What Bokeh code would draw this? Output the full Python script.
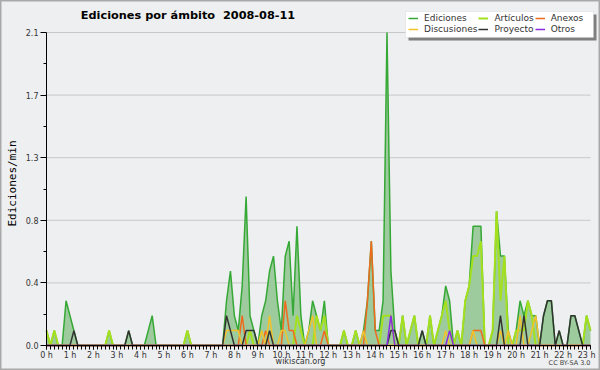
import numpy as np
from bokeh.plotting import figure
from bokeh.models import (Range1d, FixedTicker, PrintfTickFormatter, Legend, LegendItem,
                          Label, BoxAnnotation)
from bokeh.embed import file_html
from bokeh.resources import INLINE

# ---------------- data (edits per minute, 10-minute bins from 00:00) ----------------
title_text = "Ediciones por ámbito\u00a0\u00a02008-08-11"
y_label = "Ediciones/min"
hours = list(range(24))
y_max = 2.1

ediciones = [
    0.1, 0, 0.1, 0, 0, 0.3, 0.2, 0.1, 0, 0, 0, 0,
    0, 0, 0, 0, 0.1, 0, 0, 0, 0, 0.1, 0, 0,
    0, 0, 0.1, 0.2, 0, 0, 0, 0, 0, 0, 0, 0,
    0.1, 0, 0, 0, 0, 0, 0, 0, 0, 0, 0.3, 0.5,
    0.2, 0.1, 0.4, 1.0, 0.2, 0.1, 0, 0.2, 0.3, 0.5, 0.6, 0.3,
    0.1, 0.6, 0.7, 0.2, 0.8, 0.2, 0, 0.1, 0.3, 0.2, 0.1, 0.3,
    0, 0, 0, 0, 0.1, 0, 0, 0.1, 0, 0.1, 0.3, 0.7,
    0.1, 0.1, 0.3, 2.1, 0.5, 0.1, 0, 0.2, 0, 0.1, 0.2, 0,
    0.1, 0, 0.2, 0, 0.1, 0.2, 0.4, 0.3, 0, 0.1, 0, 0.3,
    0.4, 0.8, 0.8, 0.8, 0, 0, 0.1, 0.9, 0.6, 0.6, 0.1, 0,
    0.1, 0.3, 0.2, 0.3, 0.2, 0.2, 0, 0.2, 0.3, 0.3, 0, 0.1,
    0, 0, 0.2, 0.2, 0.1, 0, 0.2, 0.1,
]
articulos = [
    0.1, 0, 0.1, 0, 0, 0, 0, 0, 0, 0, 0, 0,
    0, 0, 0, 0, 0.1, 0, 0, 0, 0, 0, 0, 0,
    0, 0, 0, 0, 0, 0, 0, 0, 0, 0, 0, 0,
    0.1, 0, 0, 0, 0, 0, 0, 0, 0, 0, 0, 0,
    0, 0, 0, 0, 0.1, 0, 0, 0, 0, 0, 0, 0,
    0, 0, 0, 0, 0.2, 0.1, 0, 0, 0, 0.2, 0.1, 0.2,
    0, 0, 0, 0, 0.1, 0, 0, 0.1, 0, 0, 0, 0,
    0, 0, 0.2, 0.2, 0.2, 0, 0, 0.2, 0, 0.1, 0.2, 0,
    0, 0, 0.2, 0, 0.1, 0.2, 0.3, 0.1, 0, 0.1, 0, 0.3,
    0.4, 0.6, 0.6, 0.7, 0, 0, 0.1, 0.9, 0.3, 0.6, 0, 0,
    0.1, 0.1, 0.1, 0.3, 0.2, 0, 0, 0, 0, 0, 0, 0,
    0, 0, 0, 0, 0, 0, 0.2, 0.1,
]
anexos = [
    0, 0, 0, 0, 0, 0, 0, 0, 0, 0, 0, 0,
    0, 0, 0, 0, 0, 0, 0, 0, 0, 0, 0, 0,
    0, 0, 0, 0, 0, 0, 0, 0, 0, 0, 0, 0,
    0, 0, 0, 0, 0, 0, 0, 0, 0, 0, 0, 0,
    0, 0, 0.2, 0, 0, 0, 0, 0, 0.1, 0, 0, 0,
    0, 0.3, 0.1, 0.1, 0, 0, 0, 0, 0, 0, 0, 0.1,
    0, 0, 0, 0, 0, 0, 0, 0, 0, 0, 0.3, 0.7,
    0.1, 0, 0, 0, 0, 0, 0, 0, 0, 0, 0, 0,
    0, 0, 0, 0, 0, 0, 0, 0, 0, 0, 0, 0,
    0, 0.1, 0.1, 0.1, 0, 0, 0, 0, 0, 0, 0, 0,
    0, 0, 0, 0, 0, 0, 0, 0, 0, 0, 0, 0,
    0, 0, 0, 0, 0, 0, 0, 0,
]
discusiones = [
    0, 0, 0, 0, 0, 0, 0, 0, 0, 0, 0, 0,
    0, 0, 0, 0, 0, 0, 0, 0, 0, 0, 0, 0,
    0, 0, 0, 0, 0, 0, 0, 0, 0, 0, 0, 0,
    0, 0, 0, 0, 0, 0, 0, 0, 0, 0, 0.1, 0.1,
    0.1, 0.1, 0, 0, 0, 0, 0, 0.1, 0, 0.2, 0, 0,
    0.1, 0.1, 0, 0, 0, 0, 0, 0.1, 0.2, 0, 0, 0,
    0, 0, 0, 0, 0, 0, 0, 0, 0, 0.1, 0, 0,
    0, 0, 0, 0, 0, 0, 0, 0, 0, 0, 0, 0,
    0, 0, 0, 0, 0, 0, 0.1, 0, 0, 0, 0, 0,
    0, 0.1, 0, 0, 0, 0, 0, 0, 0.1, 0, 0.1, 0,
    0, 0.2, 0, 0, 0.1, 0.2, 0, 0, 0, 0, 0, 0,
    0, 0, 0, 0, 0, 0, 0, 0,
]
proyecto = [
    0, 0, 0, 0, 0, 0, 0, 0.1, 0, 0, 0, 0,
    0, 0, 0, 0, 0, 0, 0, 0, 0, 0.1, 0, 0,
    0, 0, 0, 0, 0, 0, 0, 0, 0, 0, 0, 0,
    0, 0, 0, 0, 0, 0, 0, 0, 0, 0, 0.2, 0.1,
    0, 0, 0, 0.1, 0.1, 0.1, 0, 0, 0, 0.1, 0, 0,
    0, 0, 0, 0, 0, 0, 0, 0, 0, 0, 0, 0,
    0, 0, 0, 0, 0, 0, 0, 0, 0, 0, 0, 0,
    0, 0, 0, 0, 0.1, 0.1, 0, 0, 0, 0, 0, 0,
    0.1, 0, 0, 0, 0, 0, 0, 0, 0, 0, 0, 0,
    0, 0, 0, 0, 0, 0, 0, 0, 0.2, 0, 0, 0,
    0, 0, 0.2, 0, 0, 0, 0, 0.2, 0.3, 0.3, 0, 0.1,
    0, 0, 0.2, 0.2, 0.1, 0, 0, 0,
]
otros = [
    0, 0, 0, 0, 0, 0, 0, 0, 0, 0, 0, 0,
    0, 0, 0, 0, 0, 0, 0, 0, 0, 0, 0, 0,
    0, 0, 0, 0, 0, 0, 0, 0, 0, 0, 0, 0,
    0, 0, 0, 0, 0, 0, 0, 0, 0, 0, 0, 0,
    0, 0, 0, 0, 0, 0, 0, 0, 0, 0, 0, 0,
    0, 0, 0, 0, 0, 0, 0, 0, 0, 0, 0, 0,
    0, 0, 0, 0, 0, 0, 0, 0, 0, 0, 0, 0,
    0, 0, 0, 0, 0.2, 0, 0, 0, 0, 0, 0, 0,
    0, 0, 0, 0, 0, 0, 0, 0.1, 0, 0, 0, 0,
    0, 0, 0, 0, 0, 0, 0, 0, 0, 0, 0, 0,
    0, 0, 0, 0, 0, 0, 0, 0, 0, 0, 0, 0,
    0, 0, 0, 0, 0, 0, 0, 0,
]

# ---------------- layout (pixels of the page) ----------------
n = len(ediciones)
t = np.arange(n) / 6.0          # bin start, in hours
W, H = 600, 370
PX0, PX1 = 46, 590              # plot area, left/right
PY0, PY1 = 345, 32              # y=0 / y=y_max rows
sx = (PX1 - PX0) / t[-1]
sy = (PY0 - PY1) / y_max

p = figure(width=W, height=H, output_backend="svg", toolbar_location=None, title=None,
           x_range=Range1d(-PX0 / sx, t[-1] + (W - PX1) / sx),
           y_range=Range1d(-(H - PY0) / sy, y_max + PY1 / sy),
           min_border=0, min_border_left=0, min_border_right=0,
           min_border_top=0, min_border_bottom=0,
           background_fill_color="#eeeff0", border_fill_color="#eeeff0",
           outline_line_color="#a9a9a9", outline_line_width=2)

# axes drawn at the origin
y_ticks = [round(y_max * k / 5, 2) for k in range(6)]
y_minor = [round(y_max * (2 * k + 1) / 10, 3) for k in range(5)]
p.yaxis.ticker = FixedTicker(ticks=y_ticks, minor_ticks=y_minor)
p.yaxis.formatter = PrintfTickFormatter(format="%.1f")
p.xaxis.ticker = FixedTicker(ticks=hours, minor_ticks=[float(v) for v in t])
p.xaxis.formatter = PrintfTickFormatter(format="%d h")
p.xaxis.fixed_location = 0
p.yaxis.fixed_location = 0
p.xaxis.bounds = (0, float(t[-1]))
p.yaxis.bounds = (0, y_max)

for ax in (p.xaxis[0], p.yaxis[0]):
    ax.axis_line_color = "black"
    ax.axis_line_width = 1
    ax.major_tick_line_color = "black"
    ax.minor_tick_line_color = "black"
    ax.major_tick_in = 0
    ax.minor_tick_in = 0
    ax.major_label_text_font = "DejaVu Sans"
    ax.major_label_text_font_size = "8px"
    ax.major_label_text_color = "#333333"
p.xaxis.major_tick_out = 4
p.xaxis.minor_tick_out = 4
p.xaxis.major_label_standoff = 1
p.yaxis.major_tick_out = 6
p.yaxis.minor_tick_out = 3
p.yaxis.major_label_standoff = 2

p.xgrid.visible = False
p.ygrid.visible = False
p.segment(x0=0, x1=float(t[-1]), y0=y_ticks[1:], y1=y_ticks[1:],
          line_color="#c8c8c8", line_width=1)

# series
p.varea(x=t, y1=0, y2=ediciones, fill_color="#9ecb9e", fill_alpha=1.0)
r_ed = p.line(t, ediciones, line_color="#35a835", line_width=1.5)
r_art = p.line(t, articulos, line_color="#a4e01e", line_width=2)
r_anx = p.line(t, anexos, line_color="#f06a1e", line_width=1.5)
r_dis = p.line(t, discusiones, line_color="#f2c22a", line_width=1.5)
r_pro = p.line(t, proyecto, line_color="#333333", line_width=1.5)
r_otr = p.line(t, otros, line_color="#8a2be2", line_width=1.5)

# legend box with shadow (screen units: from frame bottom-left, y up)
lx0, lx1, ly0, ly1 = 405, 593, H - 37, H - 11
box_units = dict(left_units="screen", right_units="screen",
                 bottom_units="screen", top_units="screen")
p.add_layout(BoxAnnotation(left=lx0 + 3, right=lx1 + 3, bottom=ly0 - 3, top=ly1 - 3,
                           fill_color="#7f7f7f", fill_alpha=1, line_color=None, **box_units))
p.add_layout(BoxAnnotation(left=lx0, right=lx1, bottom=ly0, top=ly1,
                           fill_color="white", fill_alpha=1, line_color="#c8c8c8",
                           line_width=1, **box_units))

legend = Legend(items=[
    LegendItem(label="Ediciones", renderers=[r_ed]),
    LegendItem(label="Artículos", renderers=[r_art]),
    LegendItem(label="Anexos", renderers=[r_anx]),
    LegendItem(label="Discusiones", renderers=[r_dis]),
    LegendItem(label="Proyecto", renderers=[r_pro]),
    LegendItem(label="Otros", renderers=[r_otr]),
], orientation="horizontal", nrows=2, location=(408, H - 34))
legend.background_fill_alpha = 0
legend.border_line_color = None
legend.padding = 0
legend.margin = 0
legend.spacing = 1
legend.glyph_width = 10
legend.glyph_height = 10
legend.label_height = 10
legend.label_standoff = 6
legend.label_text_font = "DejaVu Sans"
legend.label_text_font_size = "9px"
legend.label_text_color = "#333333"
p.add_layout(legend, "center")

# texts
p.add_layout(Label(x=187.5, y=H - 14.5, x_units="screen", y_units="screen", text=title_text,
                   text_font="DejaVu Sans", text_font_style="bold", text_font_size="11.3px",
                   text_align="center", text_baseline="middle", text_color="black"))
p.add_layout(Label(x=12, y=H - 183, x_units="screen", y_units="screen", text=y_label,
                   angle=np.pi / 2, text_font="DejaVu Sans Mono", text_font_size="11px",
                   text_align="center", text_baseline="middle", text_color="black"))
p.add_layout(Label(x=300, y=H - 361, x_units="screen", y_units="screen",
                   text="wikiscan.org", text_font="DejaVu Sans", text_font_size="8px",
                   text_align="center", text_baseline="middle", text_color="#333333"))
p.add_layout(Label(x=590, y=H - 362, x_units="screen", y_units="screen",
                   text="CC BY-SA 3.0", text_font="DejaVu Sans", text_font_size="6.5px",
                   text_align="right", text_baseline="middle", text_color="#444444"))

open("out.html", "w").write(file_html(p, INLINE))
